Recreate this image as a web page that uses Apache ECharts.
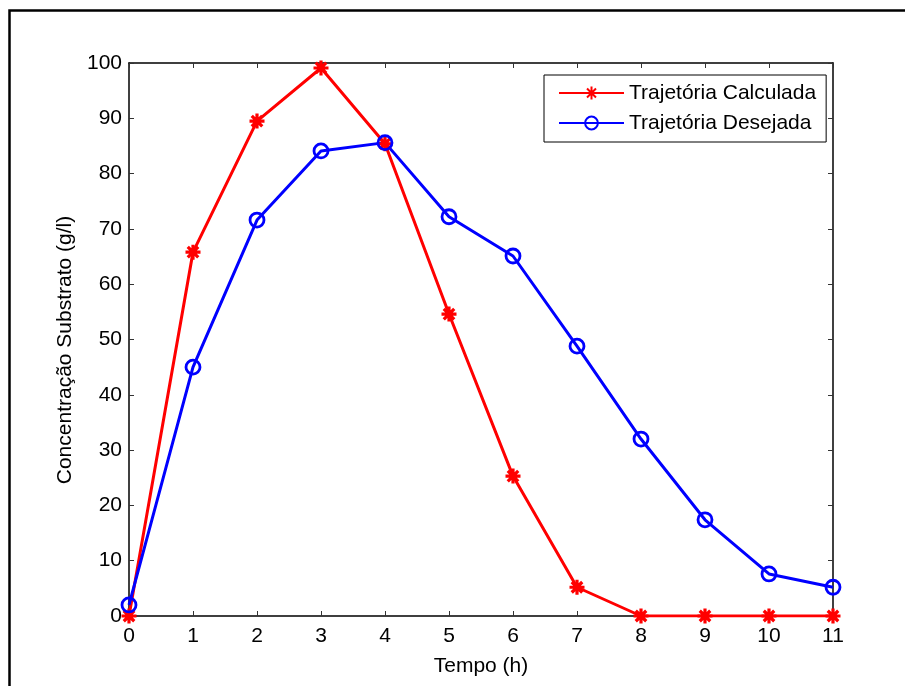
<!DOCTYPE html>
<html><head><meta charset="utf-8">
<script src="https://cdn.jsdelivr.net/npm/echarts@6/dist/echarts.min.js"></script>
<style>html,body{margin:0;padding:0;background:#fff}#c{width:905px;height:686px}</style>
</head><body><div id="c"></div>
<script>
var tempo = [0,1,2,3,4,5,6,7,8,9,10,11];
var calculada = [0,65.8,89.5,99.1,85.4,54.6,25.3,5.2,0,0,0,0];
var desejada = [2.0,45.0,71.6,84.1,85.6,72.2,65.1,48.8,32.0,17.4,7.6,5.2];
var xTicks = [0,1,2,3,4,5,6,7,8,9,10,11];
var yTicks = [0,10,20,30,40,50,60,70,80,90,100];
var xTitle = 'Tempo (h)';
var yTitle = 'Concentração Substrato (g/l)';
var names = ['Trajetória Calculada','Trajetória Desejada'];

var font = '"Liberation Sans", Arial, sans-serif';
var FS = 21;
var star = 'path://M0,-10 L0,10 M-10,0 L10,0 M-7,-7 L7,7 M-7,7 L7,-7';
function pairs(xs, ys){ return xs.map(function(x,i){return [x, ys[i]];}); }

var chart = echarts.init(document.getElementById('c'));
var axisCommon = {
  type:'value', splitLine:{show:false},
  axisLine:{show:true, onZero:false, lineStyle:{color:'#000', width:1.5}},
  axisTick:{show:true, inside:true, length:5, lineStyle:{color:'#333', width:1}}
};
chart.setOption({
  backgroundColor:'#fff',
  animation:false,
  grid:{left:129, right:72, top:63, bottom:70},
  xAxis:[
    Object.assign({}, axisCommon, {position:'bottom', min:0, max:11, interval:1,
      name:xTitle, nameLocation:'middle', nameGap:40,
      nameTextStyle:{color:'#000', fontSize:FS, fontFamily:font},
      axisLabel:{color:'#000', fontSize:FS, fontFamily:font, margin:10,
        formatter:function(v){return xTicks.indexOf(v)>=0 ? String(v) : '';}}}),
    Object.assign({}, axisCommon, {position:'top', min:0, max:11, interval:1, axisLabel:{show:false}})
  ],
  yAxis:[
    Object.assign({}, axisCommon, {position:'left', min:0, max:100, interval:10,
      axisLabel:{color:'#000', fontSize:FS, fontFamily:font, margin:7,
        formatter:function(v){return yTicks.indexOf(v)>=0 ? String(v) : '';}}}),
    Object.assign({}, axisCommon, {position:'right', min:0, max:100, interval:10, axisLabel:{show:false}})
  ],
  legend:{
    left:544, top:75, orient:'vertical',
    backgroundColor:'#fff', borderColor:'#000', borderWidth:1,
    padding:[7,10,8,14], itemGap:8,
    itemWidth:65, itemHeight:16,
    textStyle:{color:'#000', fontSize:FS, fontFamily:font, lineHeight:22},
    data:names
  },
  series:[
    {name:names[0], type:'line', data:pairs(tempo, calculada),
      symbol:star, symbolSize:15,
      lineStyle:{color:'#ff0000', width:3},
      itemStyle:{color:'#ff0000', borderColor:'#ff0000', borderWidth:3.2}},
    {name:names[1], type:'line', data:pairs(tempo, desejada),
      symbol:'circle', symbolSize:14,
      lineStyle:{color:'#0000ff', width:3},
      itemStyle:{color:'rgba(0,0,0,0)', borderColor:'#0000ff', borderWidth:2.8}}
  ],
  graphic:[
    {type:'polyline', silent:true, shape:{points:[[905,10.5],[9.5,10.5],[9.5,686]]},
      style:{stroke:'#000', lineWidth:2.5, fill:null}},
    {type:'text', silent:true, x:65, y:350, rotation:Math.PI/2,
      style:{text:yTitle, fill:'#000', font:FS+'px '+font, align:'center', verticalAlign:'middle'}}
  ]
});
</script></body></html>
